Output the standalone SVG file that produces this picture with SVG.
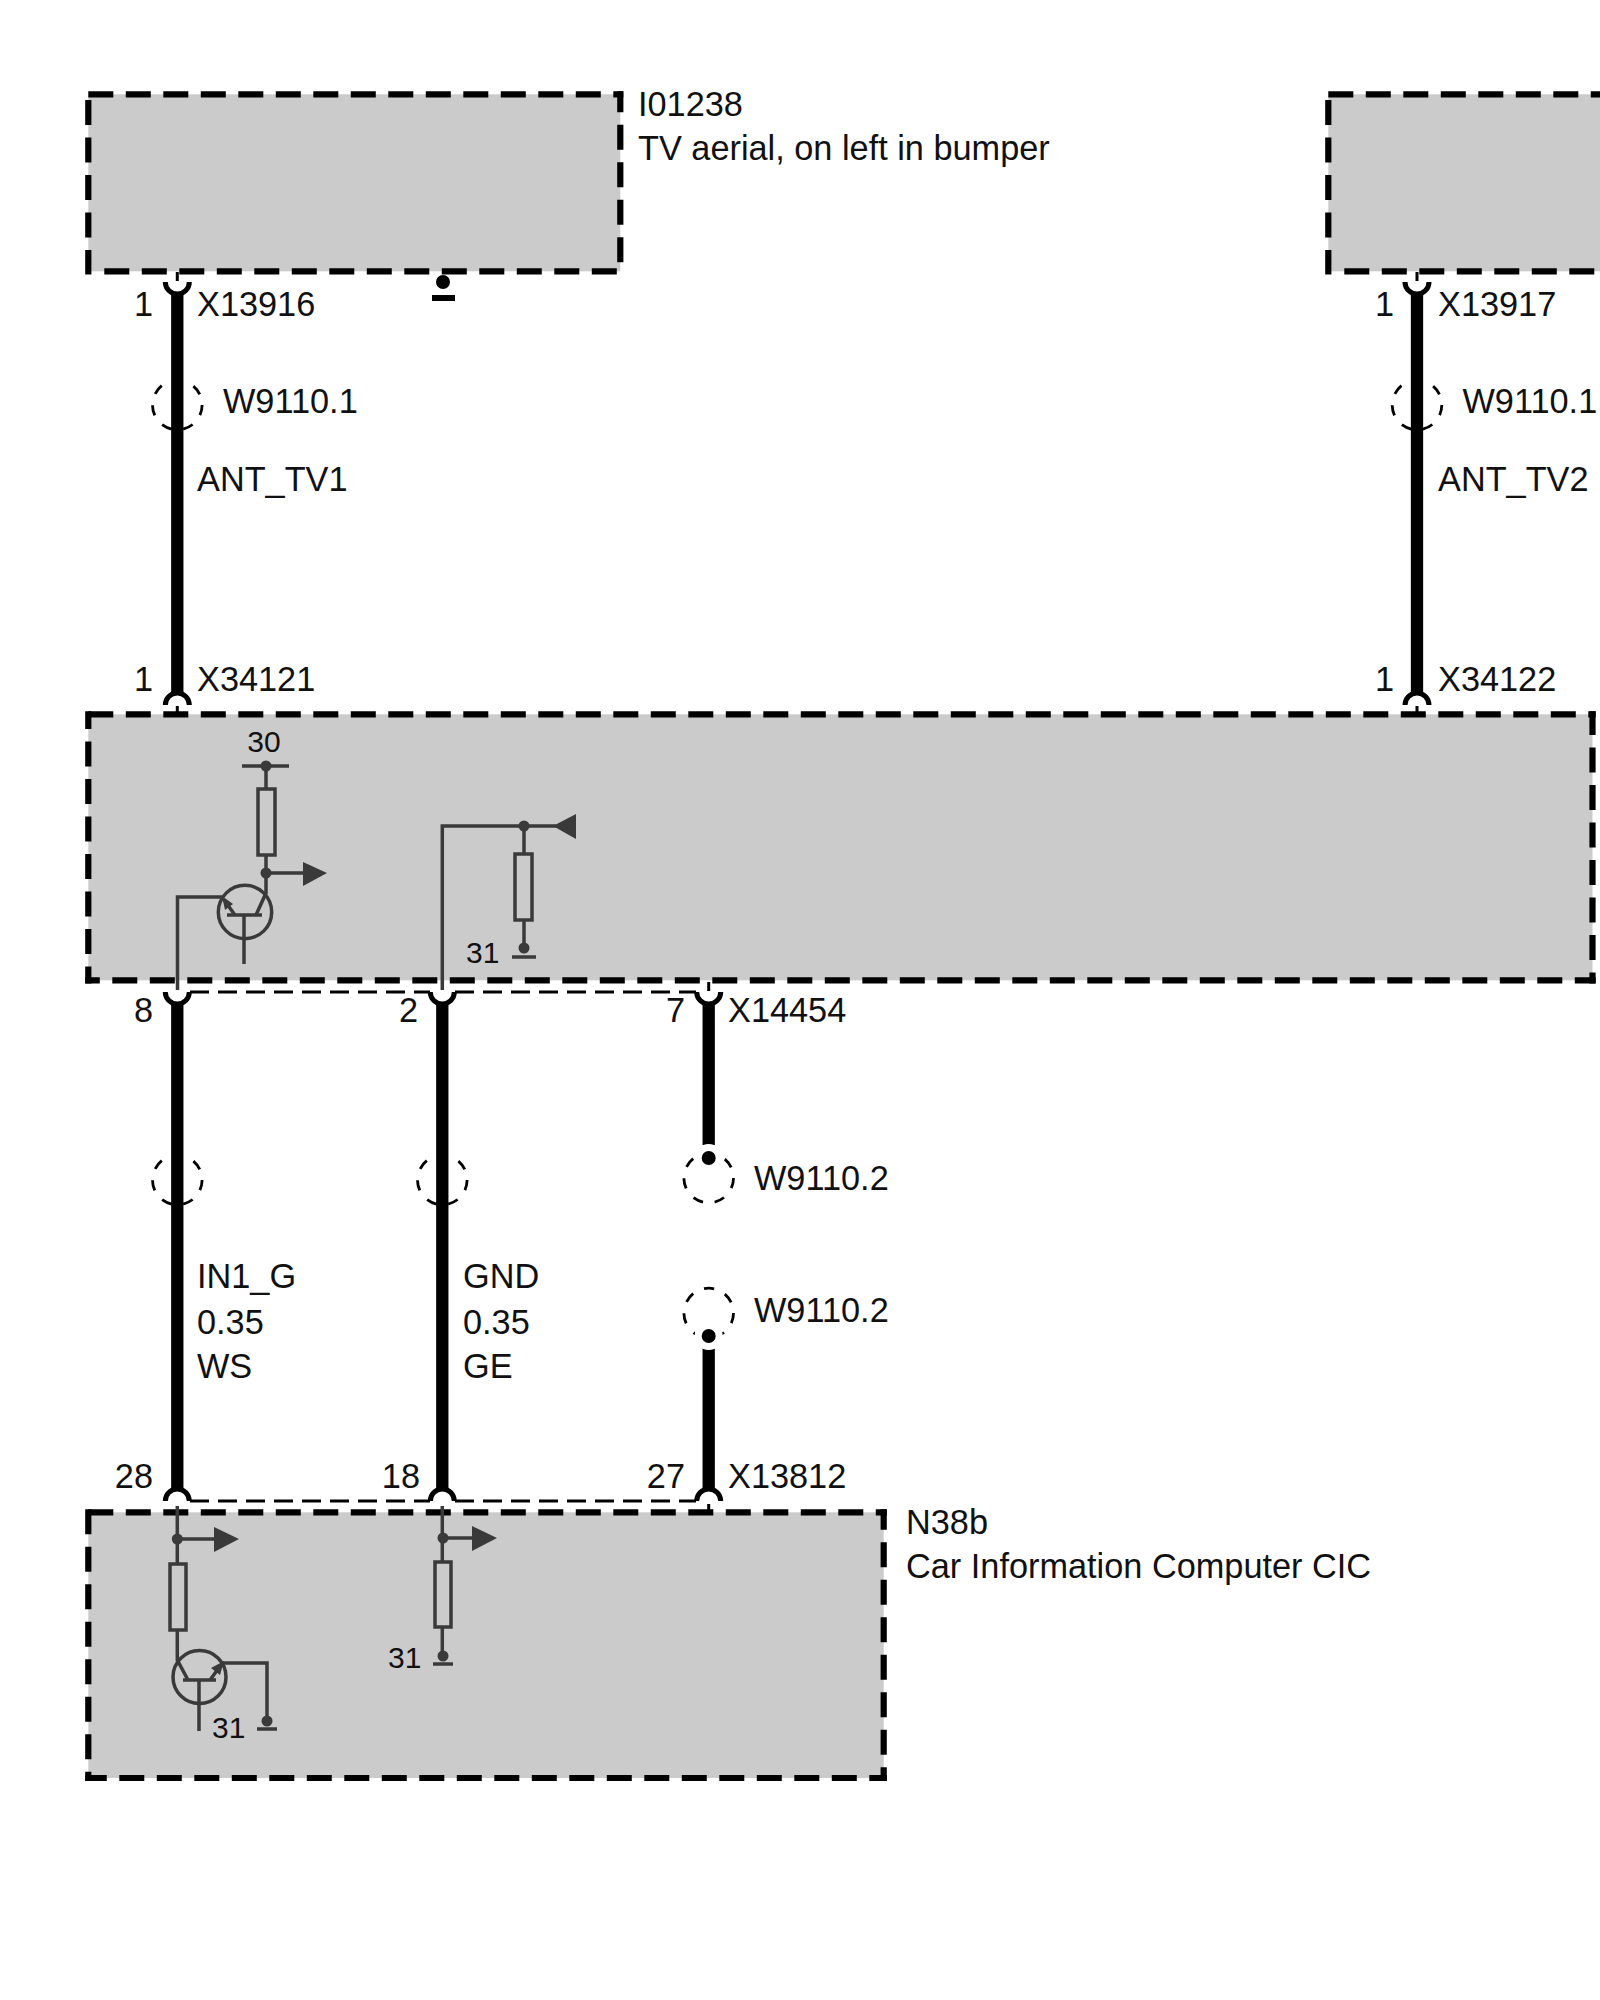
<svg xmlns="http://www.w3.org/2000/svg" width="1600" height="2000" viewBox="0 0 1600 2000">
<style>
text{font-family:"Liberation Sans",Arial,sans-serif;font-size:34.3px;fill:#111}
.s{font-size:30px}
.fill{fill:#cbcbcb;stroke:none}
.b{fill:none;stroke:#000;stroke-width:6.2;stroke-dasharray:25 12.5}
.w{fill:none;stroke:#000;stroke-width:12.3}
.cup{fill:none;stroke:#000;stroke-width:5}
.stem{fill:none;stroke:#000;stroke-width:3}
.thin{fill:none;stroke:#000;stroke-width:2.8;stroke-dasharray:19 9}
.sh{fill:none;stroke:#000;stroke-width:2.8;stroke-dasharray:10.4 11.86}
.c{fill:none;stroke:#3a3a3a;stroke-width:3.5}
.d{fill:#3a3a3a}
.k{fill:#000}
.h{fill:#000;stroke:#fff;stroke-width:14;paint-order:stroke}
.r{text-anchor:end}
</style>
<g id="I01238">
<rect class="fill" x="88.3" y="94.3" width="532" height="177"/>
<path class="b" d="M88.3 94.3H623.3"/><path class="b" d="M104.3 271.3H617"/><path class="b" d="M88.3 100V274.4"/><path class="b" stroke-dashoffset="4" d="M620.3 91.2V263"/>
<text x="638" y="115.5">I01238</text><text x="638" y="159.5">TV aerial, on left in bumper</text>
<circle class="k" cx="443" cy="282" r="7"/><rect class="k" x="432" y="295" width="23" height="6"/>
</g>
<g id="I01238b">
<rect class="fill" x="1328.3" y="94.3" width="272" height="177"/>
<path class="b" d="M1328.3 94.3H1600"/><path class="b" d="M1344.3 271.3H1600"/><path class="b" d="M1328.3 100V274.4"/>
</g>
<g id="TVmodule">
<rect class="fill" x="88.3" y="714.3" width="1504.2" height="266"/>
<path class="b" d="M88.3 714.3H1595.7"/><path class="b" stroke-dashoffset="10.5" d="M85.3 980.3H1595.7"/><path class="b" stroke-dashoffset="7.1" d="M88.3 711.2V983.4"/><path class="b" stroke-dashoffset="1.1" d="M1592.5 711.2V983.4"/>
<text class="s" x="264" y="752" text-anchor="middle">30</text>
<path class="c" d="M242 766H289M266 766V789M266 855V893L256 915M266 873H304"/>
<rect class="c" x="258" y="789" width="17" height="66"/>
<circle class="d" cx="266" cy="766" r="5.5"/><circle class="d" cx="266" cy="873" r="5.5"/>
<polygon class="d" points="303,862 327,873 303,886"/>
<circle class="c" cx="245" cy="912" r="26.7"/>
<path class="c" d="M227 915H262M244 915V964M235 915L224 900M222 897H177.5V990"/>
<polygon class="d" points="222,896 233,904 225,910"/>
<path class="c" d="M442.3 990V826H556M524 826V854M524 920V948"/>
<circle class="d" cx="524" cy="826" r="5.5"/>
<polygon class="d" points="553,826 576,814 576,839"/>
<rect class="c" x="515" y="854" width="17" height="66"/>
<circle class="d" cx="524" cy="948" r="5.5"/><path class="c" d="M512 957H536"/>
<text class="s" x="466" y="963">31</text>
</g>
<g id="N38b">
<rect class="fill" x="88.3" y="1512.3" width="795.4" height="265.7"/>
<path class="b" d="M88.3 1512.3H886.8"/><path class="b" stroke-dashoffset="3.5" d="M85.3 1778H886.8"/><path class="b" d="M88.3 1509.2V1781"/><path class="b" stroke-dashoffset="4.5" d="M883.7 1509.2V1781"/>
<text x="906" y="1534">N38b</text><text x="906" y="1578">Car Information Computer CIC</text>
<path class="c" d="M177.3 1506V1564M177.3 1630V1660L188 1680M177.3 1539H215"/>
<circle class="d" cx="177.3" cy="1539" r="5.5"/>
<polygon class="d" points="214,1527 239,1539 214,1552"/>
<rect class="c" x="170" y="1564" width="16" height="66"/>
<circle class="c" cx="199.5" cy="1677" r="26.5"/>
<path class="c" d="M183 1680H216M199 1680V1731M210 1680L221 1665M223 1663H267V1721"/>
<polygon class="d" points="224,1661 220,1675 211,1668"/>
<circle class="d" cx="267" cy="1721" r="5.5"/><path class="c" d="M257 1729H277"/>
<text class="s" x="212" y="1738">31</text>
<path class="c" d="M442.3 1506V1562M442.3 1627V1656M442.3 1538H473"/>
<circle class="d" cx="443" cy="1538" r="5.5"/>
<polygon class="d" points="472,1526 497,1538 472,1551"/>
<rect class="c" x="435" y="1562" width="16" height="65"/>
<circle class="d" cx="443" cy="1656" r="5.5"/><path class="c" d="M433 1664H453"/>
<text class="s" x="388" y="1668">31</text>
</g>
<g id="connectors">
<path class="w" d="M177.3 293V695M1417 293V695M177.3 1003V1490M442.3 1003V1490M708.7 1003V1145M708.7 1348V1490"/>
<path class="cup" d="M165.3 282A12 12 0 0 0 189.3 282M1405 282A12 12 0 0 0 1429 282M165.3 705A12 12 0 0 1 189.3 705M1405 705A12 12 0 0 1 1429 705M165.3 992A12 12 0 0 0 189.3 992M430.3 992A12 12 0 0 0 454.3 992M696.7 992A12 12 0 0 0 720.7 992M165.3 1501A12 12 0 0 1 189.3 1501M430.3 1501A12 12 0 0 1 454.3 1501M696.7 1501A12 12 0 0 1 720.7 1501"/>
<path class="stem" d="M177.3 272V281M1417 272V281M177.3 706V714M1417 706V714M708.7 982V991M708.7 1504V1515"/>
<path class="thin" d="M190 992H430M455 992H696M190 1501H430M455 1501H696"/>
<circle class="sh" cx="177.3" cy="405" r="24.8"/><circle class="sh" cx="1417" cy="405" r="24.8"/>
<circle class="sh" cx="177.3" cy="1180" r="24.8"/><circle class="sh" cx="442.3" cy="1180" r="24.8"/>
<circle class="sh" cx="708.7" cy="1178" r="24.8"/><circle class="sh" cx="708.7" cy="1313" r="24.8"/>
<circle class="h" cx="708.7" cy="1158" r="7"/><circle class="h" cx="708.7" cy="1336" r="7"/>
</g>
<g id="labels">
<text class="r" x="153" y="316">1</text><text x="197" y="316">X13916</text>
<text x="223" y="413">W9110.1</text><text x="197" y="491">ANT_TV1</text>
<text class="r" x="153" y="691">1</text><text x="197" y="691">X34121</text>
<text class="r" x="1394" y="316">1</text><text x="1438" y="316">X13917</text>
<text x="1462.5" y="413">W9110.1</text><text x="1438" y="491">ANT_TV2</text>
<text class="r" x="1394" y="691">1</text><text x="1438" y="691">X34122</text>
<text class="r" x="153" y="1022">8</text><text class="r" x="418" y="1022">2</text><text class="r" x="685" y="1022">7</text><text x="728" y="1022">X14454</text>
<text x="754" y="1190">W9110.2</text><text x="754" y="1322">W9110.2</text>
<text x="197" y="1288">IN1_G</text><text x="197" y="1334">0.35</text><text x="197" y="1378">WS</text>
<text x="463" y="1288">GND</text><text x="463" y="1334">0.35</text><text x="463" y="1378">GE</text>
<text class="r" x="153" y="1488">28</text><text class="r" x="420" y="1488">18</text><text class="r" x="685" y="1488">27</text><text x="728" y="1488">X13812</text>
</g>
</svg>
